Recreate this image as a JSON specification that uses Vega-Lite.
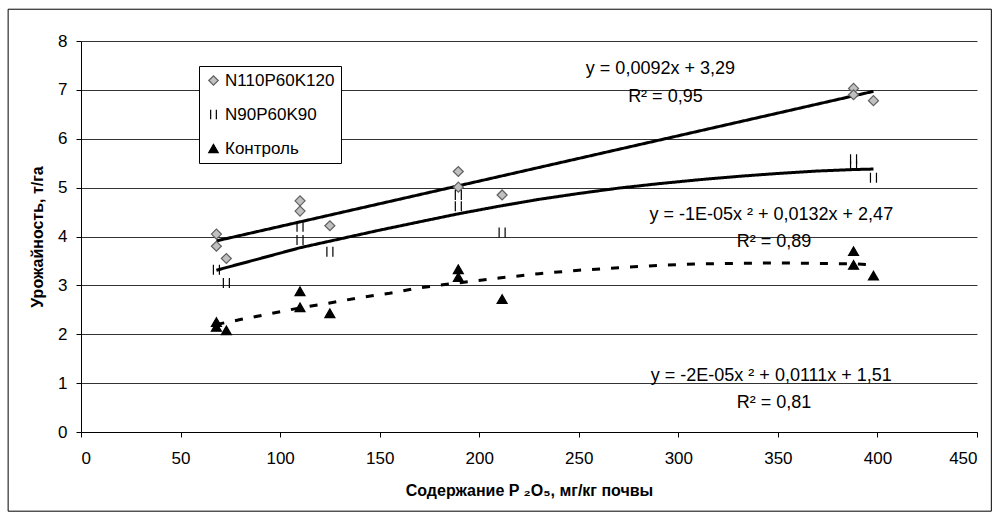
{
  "$schema": "https://vega.github.io/schema/vega-lite/v6.json",
  "width": 896,
  "height": 391,
  "autosize": {"type": "none"},
  "padding": {"left": 81, "top": 41, "right": 17, "bottom": 81},
  "background": "white",
  "config": {
    "font": "Liberation Sans",
    "view": {"stroke": null},
    "axis": {
      "labelFont": "Liberation Sans",
      "labelFontSize": 17,
      "labelColor": "black",
      "tickColor": "black",
      "tickSize": 5,
      "domainColor": "black",
      "titleFont": "Liberation Sans",
      "titleFontSize": 16,
      "titleFontWeight": "bold",
      "titleColor": "black"
    },
    "legend": {
      "orient": "none",
      "legendX": 118,
      "legendY": 25,
      "title": null,
      "labelFont": "Liberation Sans",
      "labelFontSize": 17,
      "labelColor": "black",
      "strokeColor": "black",
      "fillColor": "white",
      "padding": 6,
      "rowPadding": 16,
      "labelOffset": 3,
      "symbolStrokeWidth": 1.2,
      "symbolSize": 90
    }
  },
  "datasets": {
    "frame": [{"x": -36.6, "x2": 457.2, "y": 8.65, "y2": -1.62}],
    "points": [
      {"series": "N110P60K120", "x": 68, "y": 4.05},
      {"series": "N110P60K120", "x": 68, "y": 3.8},
      {"series": "N110P60K120", "x": 73, "y": 3.55},
      {"series": "N110P60K120", "x": 110, "y": 4.73},
      {"series": "N110P60K120", "x": 110, "y": 4.52},
      {"series": "N110P60K120", "x": 125, "y": 4.22},
      {"series": "N110P60K120", "x": 189.5, "y": 5.33},
      {"series": "N110P60K120", "x": 189.5, "y": 5.01},
      {"series": "N110P60K120", "x": 211.5, "y": 4.85},
      {"series": "N110P60K120", "x": 388, "y": 7.03},
      {"series": "N110P60K120", "x": 388, "y": 6.9},
      {"series": "N110P60K120", "x": 398, "y": 6.78},
      {"series": "N90P60K90", "x": 68, "y": 3.32},
      {"series": "N90P60K90", "x": 73, "y": 3.05},
      {"series": "N90P60K90", "x": 110, "y": 4.2},
      {"series": "N90P60K90", "x": 110, "y": 3.93},
      {"series": "N90P60K90", "x": 125, "y": 3.69},
      {"series": "N90P60K90", "x": 189.5, "y": 4.85},
      {"series": "N90P60K90", "x": 189.5, "y": 4.62},
      {"series": "N90P60K90", "x": 211.5, "y": 4.08},
      {"series": "N90P60K90", "x": 388, "y": 5.58},
      {"series": "N90P60K90", "x": 388, "y": 5.45},
      {"series": "N90P60K90", "x": 398, "y": 5.2},
      {"series": "Контроль", "x": 68, "y": 2.25},
      {"series": "Контроль", "x": 68, "y": 2.15},
      {"series": "Контроль", "x": 73, "y": 2.08},
      {"series": "Контроль", "x": 110, "y": 2.88},
      {"series": "Контроль", "x": 110, "y": 2.55},
      {"series": "Контроль", "x": 125, "y": 2.43},
      {"series": "Контроль", "x": 189.5, "y": 3.33},
      {"series": "Контроль", "x": 189.5, "y": 3.17},
      {"series": "Контроль", "x": 211.5, "y": 2.72},
      {"series": "Контроль", "x": 388, "y": 3.7},
      {"series": "Контроль", "x": 388, "y": 3.42},
      {"series": "Контроль", "x": 398, "y": 3.2}
    ],
    "trend": [
      {"curve": "lin", "x": 68, "y": 3.91},
      {"curve": "lin", "x": 398, "y": 6.97},
      {"curve": "quad1", "x": 68, "y": 3.31},
      {"curve": "quad1", "x": 90, "y": 3.55},
      {"curve": "quad1", "x": 110, "y": 3.77},
      {"curve": "quad1", "x": 130, "y": 3.95},
      {"curve": "quad1", "x": 150, "y": 4.13},
      {"curve": "quad1", "x": 170, "y": 4.3},
      {"curve": "quad1", "x": 189, "y": 4.46},
      {"curve": "quad1", "x": 210, "y": 4.62},
      {"curve": "quad1", "x": 230, "y": 4.76},
      {"curve": "quad1", "x": 250, "y": 4.88},
      {"curve": "quad1", "x": 270, "y": 4.99},
      {"curve": "quad1", "x": 290, "y": 5.08},
      {"curve": "quad1", "x": 310, "y": 5.16},
      {"curve": "quad1", "x": 330, "y": 5.23},
      {"curve": "quad1", "x": 350, "y": 5.29},
      {"curve": "quad1", "x": 370, "y": 5.34},
      {"curve": "quad1", "x": 388, "y": 5.37},
      {"curve": "quad1", "x": 398, "y": 5.38},
      {"curve": "quad2", "x": 68, "y": 2.2},
      {"curve": "quad2", "x": 80, "y": 2.3},
      {"curve": "quad2", "x": 95, "y": 2.42},
      {"curve": "quad2", "x": 110, "y": 2.54},
      {"curve": "quad2", "x": 125, "y": 2.64},
      {"curve": "quad2", "x": 140, "y": 2.75},
      {"curve": "quad2", "x": 155, "y": 2.84},
      {"curve": "quad2", "x": 170, "y": 2.95},
      {"curve": "quad2", "x": 189, "y": 3.05},
      {"curve": "quad2", "x": 210, "y": 3.15},
      {"curve": "quad2", "x": 230, "y": 3.24},
      {"curve": "quad2", "x": 250, "y": 3.31},
      {"curve": "quad2", "x": 270, "y": 3.36},
      {"curve": "quad2", "x": 290, "y": 3.41},
      {"curve": "quad2", "x": 310, "y": 3.44},
      {"curve": "quad2", "x": 330, "y": 3.45},
      {"curve": "quad2", "x": 350, "y": 3.46},
      {"curve": "quad2", "x": 370, "y": 3.45},
      {"curve": "quad2", "x": 388, "y": 3.44},
      {"curve": "quad2", "x": 398, "y": 3.42}
    ],
    "labels": [
      {"label": "y = 0,0092x + 3,29", "x": 291, "y": 7.42},
      {"label": "R² = 0,95", "x": 293.5, "y": 6.86},
      {"label": "y = -1E-05x ² + 0,0132x + 2,47", "x": 346.7, "y": 4.44},
      {"label": "R² = 0,89", "x": 348, "y": 3.89},
      {"label": "y = -2E-05x ² + 0,0111x + 1,51", "x": 346.7, "y": 1.14},
      {"label": "R² = 0,81", "x": 348, "y": 0.59}
    ]
  },
  "layer": [
    {
      "data": {"name": "frame"},
      "mark": {"type": "rect", "fill": null, "fillOpacity": 0, "stroke": "black", "strokeWidth": 1, "clip": false},
      "encoding": {
        "x": {"field": "x", "type": "quantitative", "scale": {"domain": [0, 450], "nice": false, "zero": false}},
        "x2": {"field": "x2"},
        "y": {"field": "y", "type": "quantitative", "scale": {"domain": [0, 8], "nice": false, "zero": false}},
        "y2": {"field": "y2"}
      }
    },
    {
      "data": {"name": "trend"},
      "mark": {"type": "line", "color": "black", "strokeWidth": 3},
      "encoding": {
        "x": {
          "field": "x", "type": "quantitative",
          "scale": {"domain": [0, 450], "nice": false},
          "axis": {
            "values": [0, 50, 100, 150, 200, 250, 300, 350, 400, 450],
            "grid": false,
            "labelPadding": 13,
            "title": "Содержание P ₂O₅, мг/кг почвы",
            "titlePadding": 16
          }
        },
        "y": {
          "field": "y", "type": "quantitative",
          "scale": {"domain": [0, 8], "nice": false},
          "axis": {
            "values": [0, 1, 2, 3, 4, 5, 6, 7, 8],
            "grid": true,
            "gridColor": "#333333",
            "gridWidth": 1,
            "labelPadding": 9,
            "title": "Урожайность, т/га",
            "titlePadding": 12
          }
        },
        "detail": {"field": "curve"},
        "strokeDash": {
          "field": "curve", "type": "nominal",
          "scale": {"domain": ["lin", "quad1", "quad2"], "range": [[1, 0], [1, 0], [8, 11]]},
          "legend": null
        }
      }
    },
    {
      "data": {"name": "points"},
      "mark": {"type": "point", "filled": false, "strokeWidth": 1.2, "opacity": 1},
      "encoding": {
        "x": {"field": "x", "type": "quantitative"},
        "y": {"field": "y", "type": "quantitative"},
        "shape": {
          "field": "series", "type": "nominal",
          "scale": {
            "domain": ["N110P60K120", "N90P60K90", "Контроль"],
            "range": ["diamond", "M-0.6,-1V1M0.6,-1V1", "triangle-up"]
          }
        },
        "fill": {
          "field": "series", "type": "nominal",
          "scale": {"domain": ["N110P60K120", "N90P60K90", "Контроль"], "range": ["#c0c0c0", "transparent", "black"]}
        },
        "stroke": {
          "field": "series", "type": "nominal",
          "scale": {"domain": ["N110P60K120", "N90P60K90", "Контроль"], "range": ["#606060", "black", "black"]}
        },
        "size": {"value": 100}
      }
    },
    {
      "data": {"name": "labels"},
      "mark": {"type": "text", "fontSize": 18, "font": "Liberation Sans", "color": "black", "align": "center", "baseline": "middle"},
      "encoding": {
        "x": {"field": "x", "type": "quantitative"},
        "y": {"field": "y", "type": "quantitative"},
        "text": {"field": "label", "type": "nominal"}
      }
    }
  ]
}
